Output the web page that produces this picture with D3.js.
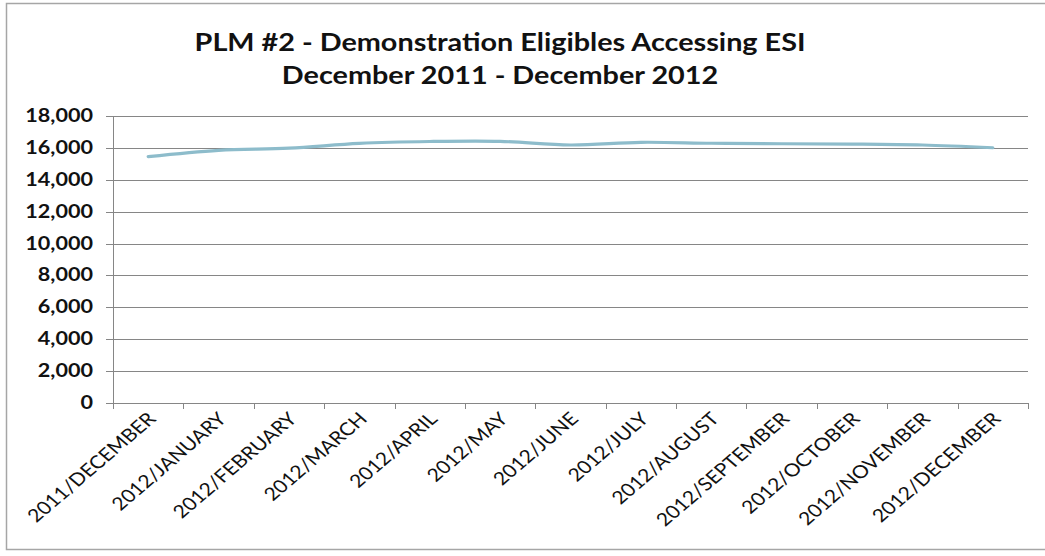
<!DOCTYPE html>
<html>
<head>
<meta charset="utf-8">
<script src="https://cdn.jsdelivr.net/npm/d3@7"></script>
<style>
    body { margin: 0; background: #fff; }
    svg { display: block; }
</style>
</head>
<body>
<svg width="1045" height="556"></svg>
<script>
var months = ["2011/DECEMBER", "2012/JANUARY", "2012/FEBRUARY", "2012/MARCH", "2012/APRIL",
    "2012/MAY", "2012/JUNE", "2012/JULY", "2012/AUGUST", "2012/SEPTEMBER",
    "2012/OCTOBER", "2012/NOVEMBER", "2012/DECEMBER"];
var eligibles = [15450, 15850, 15980, 16280, 16400, 16410, 16180, 16350, 16290, 16260, 16240, 16180, 16010];
var yTicks = [0, 2000, 4000, 6000, 8000, 10000, 12000, 14000, 16000, 18000];
var titleLines = ["PLM #2 - Demonstration  Eligibles Accessing ESI", "December 2011 - December 2012"];

var svg = d3.select("svg");
var plotLeft = 113, plotRight = 1028, plotTop = 116, plotBottom = 403;
var stretch = 1.2; // the source image is widened, so text is too

// outer frame
svg.append("rect")
    .attr("x", 6.5).attr("y", 3.5)
    .attr("width", 1060).attr("height", 546)
    .attr("fill", "none")
    .attr("stroke", "#a6a6a6")
    .attr("stroke-width", 1.5);

svg.append("g").selectAll("text")
    .data(titleLines)
    .enter().append("text")
    .attr("transform", function(d, i) {
        return "translate(500," + (51 + i * 33) + ") scale(" + stretch + ",1)";
    })
    .attr("text-anchor", "middle")
    .attr("font-family", "Lato, 'Open Sans', sans-serif")
    .attr("font-weight", "bold")
    .attr("font-size", 24)
    .attr("fill", "#111")
    .text(function(d) { return d; });

var x = d3.scaleBand().domain(months).range([plotLeft, plotRight]);
var y = d3.scaleLinear().domain([0, 18000]).range([plotBottom, plotTop]);

// gridlines
svg.append("g")
    .selectAll("line")
    .data(yTicks)
    .enter().append("line")
    .attr("x1", plotLeft - 7).attr("x2", plotRight)
    .attr("y1", function(d) { return Math.round(y(d)) + 0.5; })
    .attr("y2", function(d) { return Math.round(y(d)) + 0.5; })
    .attr("stroke", "#868686")
    .attr("stroke-width", 1);

svg.append("g")
    .selectAll("text")
    .data(yTicks)
    .enter().append("text")
    .attr("transform", function(d) {
        return "translate(93," + (y(d) + 6) + ") scale(" + stretch + ",1)";
    })
    .attr("text-anchor", "end")
    .attr("font-family", "Lato, sans-serif")
    .attr("font-weight", "bold")
    .attr("font-size", 18)
    .attr("fill", "#111")
    .text(function(d) { return d3.format(",")(d); });

// y axis line
svg.append("line")
    .attr("x1", plotLeft + 0.5).attr("x2", plotLeft + 0.5)
    .attr("y1", plotTop).attr("y2", plotBottom + 6)
    .attr("stroke", "#868686");

// category ticks between months
var tickPos = months.map(function(m) { return x(m); }).concat([plotRight]);
svg.append("g")
    .selectAll("line")
    .data(tickPos)
    .enter().append("line")
    .attr("x1", function(d) { return Math.round(d) + 0.5; })
    .attr("x2", function(d) { return Math.round(d) + 0.5; })
    .attr("y1", plotBottom).attr("y2", plotBottom + 6)
    .attr("stroke", "#868686");

svg.append("g")
    .selectAll("text")
    .data(months)
    .enter().append("text")
    .attr("transform", function(d) {
        return "translate(" + (x(d) + x.bandwidth() / 2 + 9) + "," + (plotBottom + 17) + ") scale(1.17,1) rotate(-45)";
    })
    .attr("text-anchor", "end")
    .attr("font-family", "Lato, sans-serif")
    .attr("font-size", 18)
    .attr("fill", "#111")
    .text(function(d) { return d; });

var line = d3.line()
    .x(function(d, i) { return x(months[i]) + x.bandwidth() / 2; })
    .y(function(d) { return y(d); })
    .curve(d3.curveCatmullRom.alpha(0.5));

svg.append("path")
    .datum(eligibles)
    .attr("d", line)
    .attr("fill", "none")
    .attr("stroke", "#8dbccb")
    .attr("stroke-width", 3.2)
    .attr("stroke-linecap", "round");
</script>
</body>
</html>
